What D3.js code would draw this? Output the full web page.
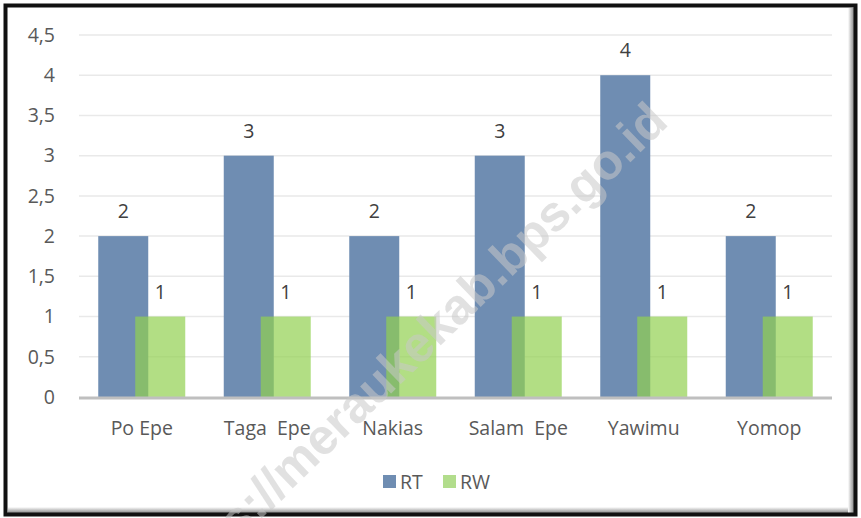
<!DOCTYPE html>
<html lang="en">
<head>
  <meta charset="utf-8">
  <title>RT RW</title>
  <style>
    body { margin: 0; background: #fff; }
    text { font-family: "Open Sans", sans-serif; }
  </style>
</head>
<body>
  <svg class="canvas" width="861" height="518"></svg>

  <script src="https://d3js.org/d3.v7.min.js"></script>
  <script>

// data
const categories = ["Po Epe", "Taga  Epe", "Nakias", "Salam  Epe", "Yawimu", "Yomop"];
const rtValues = [2, 3, 2, 3, 4, 2];
const rwValues = [1, 1, 1, 1, 1, 1];
const yTicks = [0, 0.5, 1, 1.5, 2, 2.5, 3, 3.5, 4, 4.5];
const seriesNames = ["RT", "RW"];

const svg = d3.select(".canvas");
const fs = 19.5;

// frame with a bit of shadow on the right and bottom
const defs = svg.append("defs");
const shb = defs.append("linearGradient").attr("id", "shb")
  .attr("x1", 0).attr("y1", 0).attr("x2", 0).attr("y2", 1);
shb.append("stop").attr("offset", "0").attr("stop-color", "#fff");
shb.append("stop").attr("offset", "1").attr("stop-color", "#888");
const shr = defs.append("linearGradient").attr("id", "shr")
  .attr("x1", 0).attr("y1", 0).attr("x2", 1).attr("y2", 0);
shr.append("stop").attr("offset", "0").attr("stop-color", "#fff");
shr.append("stop").attr("offset", "1").attr("stop-color", "#888");

svg.append("rect").attr("x", 6).attr("y", 5).attr("width", 848).attr("height", 509)
  .attr("fill", "#fff");
svg.append("rect").attr("x", 8).attr("y", 507).attr("width", 846).attr("height", 6)
  .attr("fill", "url(#shb)");
svg.append("rect").attr("x", 848).attr("y", 8).attr("width", 6).attr("height", 505)
  .attr("fill", "url(#shr)");
svg.append("rect").attr("x", 5.5).attr("y", 5.5).attr("width", 850).attr("height", 509)
  .attr("fill", "none").attr("stroke", "#111").attr("stroke-width", 4);

let x = d3.scaleBand().domain(categories).range([79, 832]).padding(0);
let y = d3.scaleLinear().domain([0, 4.5]).range([397, 35]);
const fmt = d => String(d).replace(".", ",");

// gridlines
svg.append("g").selectAll("line").data(yTicks.filter(d => d > 0))
  .enter().append("line")
    .attr("x1", 79).attr("x2", 832)
    .attr("y1", d => y(d)).attr("y2", d => y(d))
    .attr("stroke", "#e9e9e9").attr("stroke-width", 1.5);

// y axis labels
const yAxis = svg.append("g").attr("transform", "translate(64,0)")
  .call(d3.axisLeft(y).tickValues(yTicks).tickFormat(fmt).tickSize(0).tickPadding(9));
yAxis.select(".domain").remove();
yAxis.selectAll("text").attr("font-size", fs).attr("fill", "#595959")
  .style("font-family", "'Open Sans', sans-serif");

const barW = 50;
const cx = d => x(d) + x.bandwidth() / 2;

// RT bars
svg.append("g").selectAll("rect").data(categories)
  .enter().append("rect")
    .attr("x", d => cx(d) - 18.5 - barW / 2)
    .attr("y", (d, i) => y(rtValues[i]))
    .attr("width", barW)
    .attr("height", (d, i) => y(0) - y(rtValues[i]))
    .attr("fill", "#6f8db2");

// RW bars, see-through over RT
svg.append("g").selectAll("rect").data(categories)
  .enter().append("rect")
    .attr("x", d => cx(d) + 18.5 - barW / 2)
    .attr("y", (d, i) => y(rwValues[i]))
    .attr("width", barW)
    .attr("height", (d, i) => y(0) - y(rwValues[i]))
    .attr("fill", "#92d050").attr("fill-opacity", 0.7);

// value labels
svg.append("g").selectAll("text").data(categories)
  .enter().append("text")
    .attr("x", d => cx(d) - 18.5)
    .attr("y", (d, i) => y(rtValues[i]) - 18)
    .attr("text-anchor", "middle").attr("font-size", fs).attr("fill", "#404040")
    .text((d, i) => rtValues[i]);
svg.append("g").selectAll("text").data(categories)
  .enter().append("text")
    .attr("x", d => cx(d) + 18.5)
    .attr("y", (d, i) => y(rwValues[i]) - 18)
    .attr("text-anchor", "middle").attr("font-size", fs).attr("fill", "#404040")
    .text((d, i) => rwValues[i]);

// x axis
svg.append("line").attr("x1", 79).attr("x2", 832).attr("y1", y(0) + 1).attr("y2", y(0) + 1)
  .attr("stroke", "#bfbfbf").attr("stroke-width", 3);
svg.append("g").selectAll("text").data(categories)
  .enter().append("text")
    .attr("x", d => cx(d)).attr("y", 435)
    .attr("text-anchor", "middle").attr("font-size", fs).attr("fill", "#595959")
    .style("white-space", "pre")
    .text(d => d);

// legend
const colors = ["#6f8db2", "#b2dd8c"];
const legX = [383, 443];
const leg = svg.append("g").selectAll("g").data(seriesNames)
  .enter().append("g")
    .attr("transform", (d, i) => "translate(" + legX[i] + ",475)");
leg.append("rect").attr("width", 13).attr("height", 13).attr("fill", (d, i) => colors[i]);
leg.append("text").attr("x", 17).attr("y", 14).attr("font-size", fs).attr("fill", "#595959")
  .text(d => d);

// watermark
svg.append("text")
  .attr("transform", "translate(670,124) rotate(-44)")
  .attr("text-anchor", "end")
  .attr("font-size", 50).attr("font-weight", "bold")
  .style("font-family", "'Liberation Sans', Arial, sans-serif")
  .attr("fill", "#c8c8c8").attr("fill-opacity", 0.55)
  .text("https://meraukekab.bps.go.id");

  </script>
</body>
</html>
